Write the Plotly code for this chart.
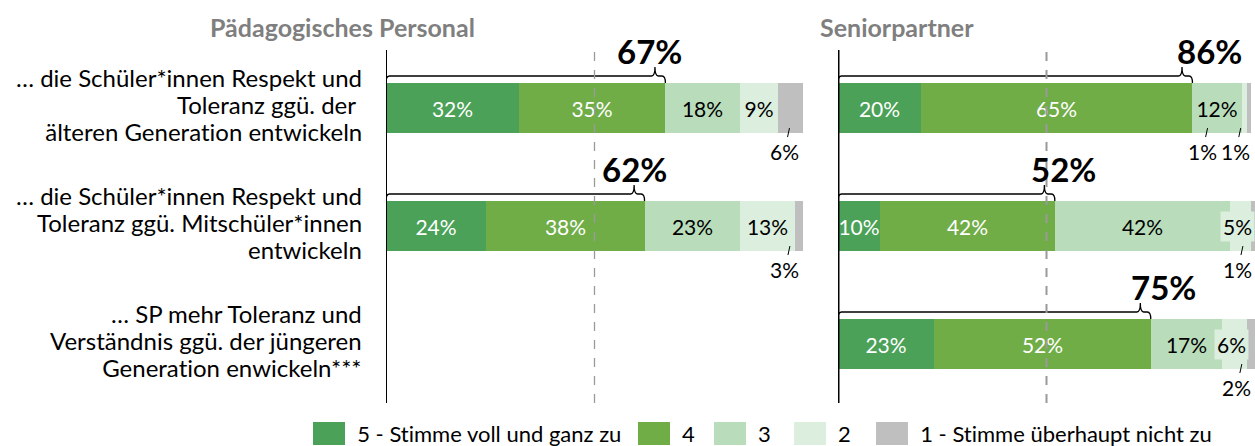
import plotly.graph_objects as go

# ---------------- data ----------------
categories = [
    "… die Schüler*innen Respekt und<br>Toleranz ggü. der <br>älteren Generation entwickeln",
    "… die Schüler*innen Respekt und<br>Toleranz ggü. Mitschüler*innen<br>entwickeln",
    "… SP mehr Toleranz und<br>Verständnis ggü. der jüngeren<br>Generation enwickeln***",
]
panels = ["Pädagogisches Personal", "Seniorpartner"]
scale_labels = ["5 - Stimme voll und ganz zu", "4", "3", "2", "1 - Stimme überhaupt nicht zu"]

# percentages per scale level for each statement (rows)
pp_5 = [32, 24, None]
pp_4 = [35, 38, None]
pp_3 = [18, 23, None]
pp_2 = [9, 13, None]
pp_1 = [6, 3, None]

sp_5 = [20, 10, 23]
sp_4 = [65, 42, 52]
sp_3 = [12, 42, 17]
sp_2 = [1, 5, 6]
sp_1 = [1, 1, 2]

# reported top-2 (agree) shares
pp_top2 = [67, 62, None]
sp_top2 = [86, 52, 75]

# ---------------- style ----------------
colors = ["#4AA157", "#70AD47", "#B9DDBB", "#DCEEDD", "#BFBFBF"]
text_colors = ["white", "white", "black", "black", "black"]
FONT = "Lato"
W, H = 1255, 446
TOP, BOT = 50, 403
PX_ROW0, PX_STEP = 108, 118
BAR_FS = 21
CAT_FS = 24
CAT_LINE = 27


def px_x(px):
    return px / W


def px_y(py):
    return (BOT - py) / (BOT - TOP)


rows = [0, 1, 2]
y_top = -(PX_ROW0 - TOP) / PX_STEP
y_bot = y_top + (BOT - TOP) / PX_STEP

panel_data = [
    ([pp_5, pp_4, pp_3, pp_2, pp_1], pp_top2),
    ([sp_5, sp_4, sp_3, sp_2, sp_1], sp_top2),
]
xrefs = ["x", "x2"]

# per-label tweaks (pixel shifts) for outside labels and bracket totals
below_shift = {(0, 0, 4): -1, (0, 1, 4): -11, (1, 0, 3): -37, (1, 0, 4): -8,
               (1, 1, 4): -10, (1, 2, 4): -9}
total_shift = {(0, 0): -5, (0, 1): 0, (1, 0): 27, (1, 1): 19, (1, 2): 23}

fig = go.Figure()
annotations = []
shapes = []

bar_w = 50 / PX_STEP
half = bar_w / 2

for p, (levels, top2) in enumerate(panel_data):
    xr = xrefs[p]
    for k, vals in enumerate(levels):
        xs = [None if v is None else v / 100 for v in vals]
        txt = ["" if (v is None or v < 9) else f"{v}%" for v in vals]
        fig.add_trace(go.Bar(
            x=xs, y=rows, orientation="h", width=bar_w,
            marker=dict(color=colors[k], line=dict(width=0)),
            text=txt, textposition="inside", insidetextanchor="middle",
            textangle=0, textfont=dict(family=FONT, size=BAR_FS, color=text_colors[k]),
            xaxis=xr, yaxis="y", showlegend=False, hoverinfo="skip",
            name=scale_labels[k],
        ))
    # small labels
    for r in rows:
        cum = 0
        for k, vals in enumerate(levels):
            v = vals[r]
            if v is None:
                continue
            center = (cum + v / 2) / 100
            cum += v
            if v >= 9:
                continue
            if k == 4 or v < 4:
                annotations.append(dict(
                    x=min(center, 0.995), y=r + 0.17, xref=xr, yref="y", text=f"{v}%",
                    showarrow=True, arrowhead=0, arrowwidth=1, arrowcolor="black",
                    ax=-5, ay=23, standoff=0, startstandoff=0,
                    xshift=below_shift.get((p, r, k), 0),
                    font=dict(family=FONT, size=BAR_FS, color="black"),
                ))
            else:
                annotations.append(dict(
                    x=center, y=r, xref=xr, yref="y", text=f"{v}%",
                    showarrow=False, bgcolor=colors[3], borderpad=2,
                    xshift=-3,
                    font=dict(family=FONT, size=BAR_FS, color="black"),
                ))
    # brackets
    for r in rows:
        if top2[r] is None:
            continue
        x1 = (levels[0][r] + levels[1][r]) / 100
        top = r - half
        by = r - (PX_ROW0 - 76) / PX_STEP
        ty = r - (PX_ROW0 - 67) / PX_STEP
        e = 0.008
        xt = x1 - 0.025
        path = (f"M 0,{top} Q 0,{by} {e},{by} L {xt - e},{by} Q {xt},{by} {xt},{ty} "
                f"Q {xt},{by} {xt + e},{by} L {x1 - e},{by} Q {x1},{by} {x1},{top}")
        shapes.append(dict(type="path", path=path, xref=xr, yref="y",
                           line=dict(color="black", width=1.3)))
        annotations.append(dict(
            x=xt, y=r - 57 / PX_STEP, xref=xr, yref="y", text=f"<b>{top2[r]}%</b>",
            showarrow=False, xshift=total_shift.get((p, r), 0),
            font=dict(family=FONT, size=33, color="black"),
        ))

# category labels (one annotation per line for tight line spacing)
for r, cat in enumerate(categories):
    lines = cat.split("<br>")
    n = len(lines)
    for i, ln in enumerate(lines):
        off_px = (i - (n - 1) / 2) * CAT_LINE - 4
        annotations.append(dict(
            x=px_x(364), y=r + off_px / PX_STEP, xref="paper", yref="y",
            xanchor="right", yanchor="middle", text=ln, showarrow=False,
            font=dict(family=FONT, size=CAT_FS, color="black"),
        ))

# axis lines and 50% dashed lines
for p, xr in enumerate(xrefs):
    shapes.append(dict(type="line", xref=xr, yref="paper", x0=0, x1=0, y0=0, y1=1,
                       line=dict(color="black", width=2 if p == 0 else 3)))
    shapes.append(dict(type="line", xref=xr, yref="paper", x0=0.5, x1=0.5, y0=0, y1=1,
                       line=dict(color="#9A9A9A", width=1.3 if p == 0 else 2, dash="dash")))

# panel titles
title_px = [208, 818]
for p, t in enumerate(panels):
    annotations.append(dict(
        x=px_x(title_px[p]), y=px_y(27), xref="paper", yref="paper", xanchor="left",
        yanchor="middle", text=f"<b>{t}</b>", showarrow=False,
        font=dict(family=FONT, size=25, color="#7F7F7F"),
    ))

# custom legend
leg_px = [313, 638, 714, 794, 876]
sq_w = 32
for k, lab in enumerate(scale_labels):
    x0 = leg_px[k]
    shapes.append(dict(type="rect", xref="paper", yref="paper",
                       x0=px_x(x0), x1=px_x(x0 + sq_w), y0=px_y(422), y1=px_y(445),
                       fillcolor=colors[k], line=dict(width=0)))
    annotations.append(dict(
        x=px_x(x0 + sq_w + 10), y=px_y(433), xref="paper", yref="paper",
        xanchor="left", yanchor="middle", text=lab, showarrow=False,
        font=dict(family=FONT, size=22, color="black"),
    ))

axis_common = dict(showgrid=False, zeroline=False, showticklabels=False,
                   ticks="", showline=False, range=[0, 1], fixedrange=True)

fig.update_layout(
    width=W, height=H,
    margin=dict(l=0, r=0, t=TOP, b=H - BOT, pad=0),
    paper_bgcolor="white", plot_bgcolor="white",
    barmode="stack", bargap=0,
    uniformtext=dict(mode="show", minsize=BAR_FS),
    xaxis=dict(domain=[px_x(386), px_x(803)], anchor="y", **axis_common),
    xaxis2=dict(domain=[px_x(838), 1.0], anchor="y", **axis_common),
    yaxis=dict(range=[y_bot, y_top], tickvals=rows, showticklabels=False,
               showgrid=False, zeroline=False, ticks="", showline=False,
               anchor="x", fixedrange=True),
    shapes=shapes,
    annotations=annotations,
    showlegend=False,
    font=dict(family=FONT),
)

fig.write_html(
    "out.html",
    config={"displayModeBar": False},
    post_script="document.body.style.margin='0';document.body.style.padding='0';"
                "document.body.style.overflow='hidden';"
                "document.head.insertAdjacentHTML('beforeend',"
                "'<style>text{font-variant-ligatures:none !important;"
                "font-feature-settings:\"liga\" 0, \"dlig\" 0 !important;}</style>');",
)
